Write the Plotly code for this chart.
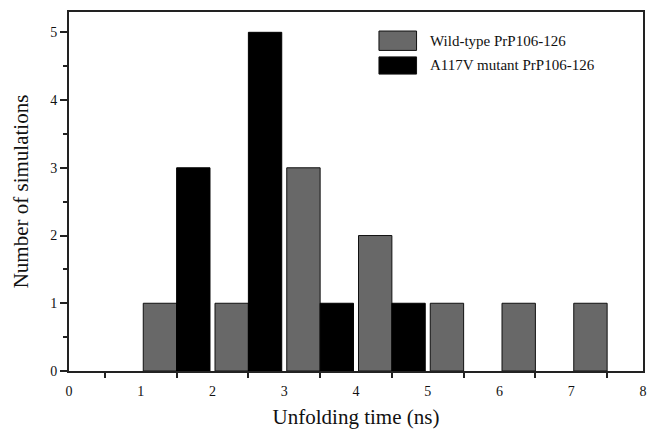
import plotly.graph_objects as go

bin_centers = [1.5, 2.5, 3.5, 4.5, 5.5, 6.5, 7.5]
wild_type = [1, 1, 3, 2, 1, 1, 1]
mutant = [3, 5, 1, 1, 0, 0, 0]
series_names = ["Wild-type PrP106-126", "A117V mutant PrP106-126"]
x_ticks = [0, 1, 2, 3, 4, 5, 6, 7, 8]
y_ticks = [0, 1, 2, 3, 4, 5]

FONT = "Liberation Serif, Times New Roman, serif"
AX = "#222222"
GRAY = "#686868"

fig = go.Figure()
fig.add_trace(go.Bar(x=bin_centers, y=wild_type, name=series_names[0],
                     marker=dict(color=GRAY,
                                 line=dict(color="#111111",
                                           width=[1 if v > 0 else 0 for v in wild_type])),
                     showlegend=False))
fig.add_trace(go.Bar(x=bin_centers, y=mutant, name=series_names[1],
                     marker=dict(color="#000000",
                                 line=dict(color="#000000",
                                           width=[1 if v > 0 else 0 for v in mutant])),
                     showlegend=False))

# manual legend (large swatches like the reference)
legend_rows = [(series_names[0], GRAY, 0.893, 0.947, 0.920),
               (series_names[1], "#000000", 0.827, 0.875, 0.851)]
for name, col, y0, y1, yt in legend_rows:
    fig.add_shape(type="rect", xref="paper", yref="paper",
                  x0=0.540, x1=0.6055, y0=y0, y1=y1,
                  fillcolor=col, line=dict(color="#111111", width=1))
    fig.add_annotation(xref="paper", yref="paper", x=0.6246, y=yt,
                       text=name, showarrow=False, xanchor="left", yanchor="middle",
                       font=dict(family=FONT, size=15, color="#111111"))

fig.update_layout(
    width=652, height=435,
    margin=dict(l=69, r=5, t=12, b=64),
    paper_bgcolor="white", plot_bgcolor="white",
    barmode="group", bargap=0.07, bargroupgap=0,
    font=dict(family=FONT, color="#111111"),
    showlegend=False,
)
fig.update_xaxes(
    range=[0, 8], tickmode="array", tickvals=x_ticks,
    ticktext=[str(v) for v in x_ticks],
    ticks="outside", ticklen=6, tickcolor="rgba(0,0,0,0)",
    tickfont=dict(family=FONT, size=14, color="#111111"),
    minor=dict(tickmode="linear", tick0=0.5, dtick=1, ticks="outside",
               ticklen=5, tickwidth=2, tickcolor=AX),
    showline=True, linecolor=AX, linewidth=2, mirror=True,
    showgrid=False, zeroline=False,
    title=dict(text="Unfolding time (ns)", font=dict(family=FONT, size=21, color="#111111"),
               standoff=12),
)
fig.update_yaxes(
    range=[0, 5.3], tickmode="array", tickvals=y_ticks,
    ticks="outside", ticklen=7, tickwidth=2, tickcolor=AX,
    tickfont=dict(family=FONT, size=14, color="#111111"),
    minor=dict(tickmode="linear", tick0=0.5, dtick=1, ticks="outside",
               ticklen=4, tickwidth=2, tickcolor=AX),
    showline=True, linecolor=AX, linewidth=2, mirror=True,
    showgrid=False, zeroline=False,
    title=dict(text="Number of simulations", font=dict(family=FONT, size=21, color="#111111"),
               standoff=16),
)

fig.write_html("out.html")
